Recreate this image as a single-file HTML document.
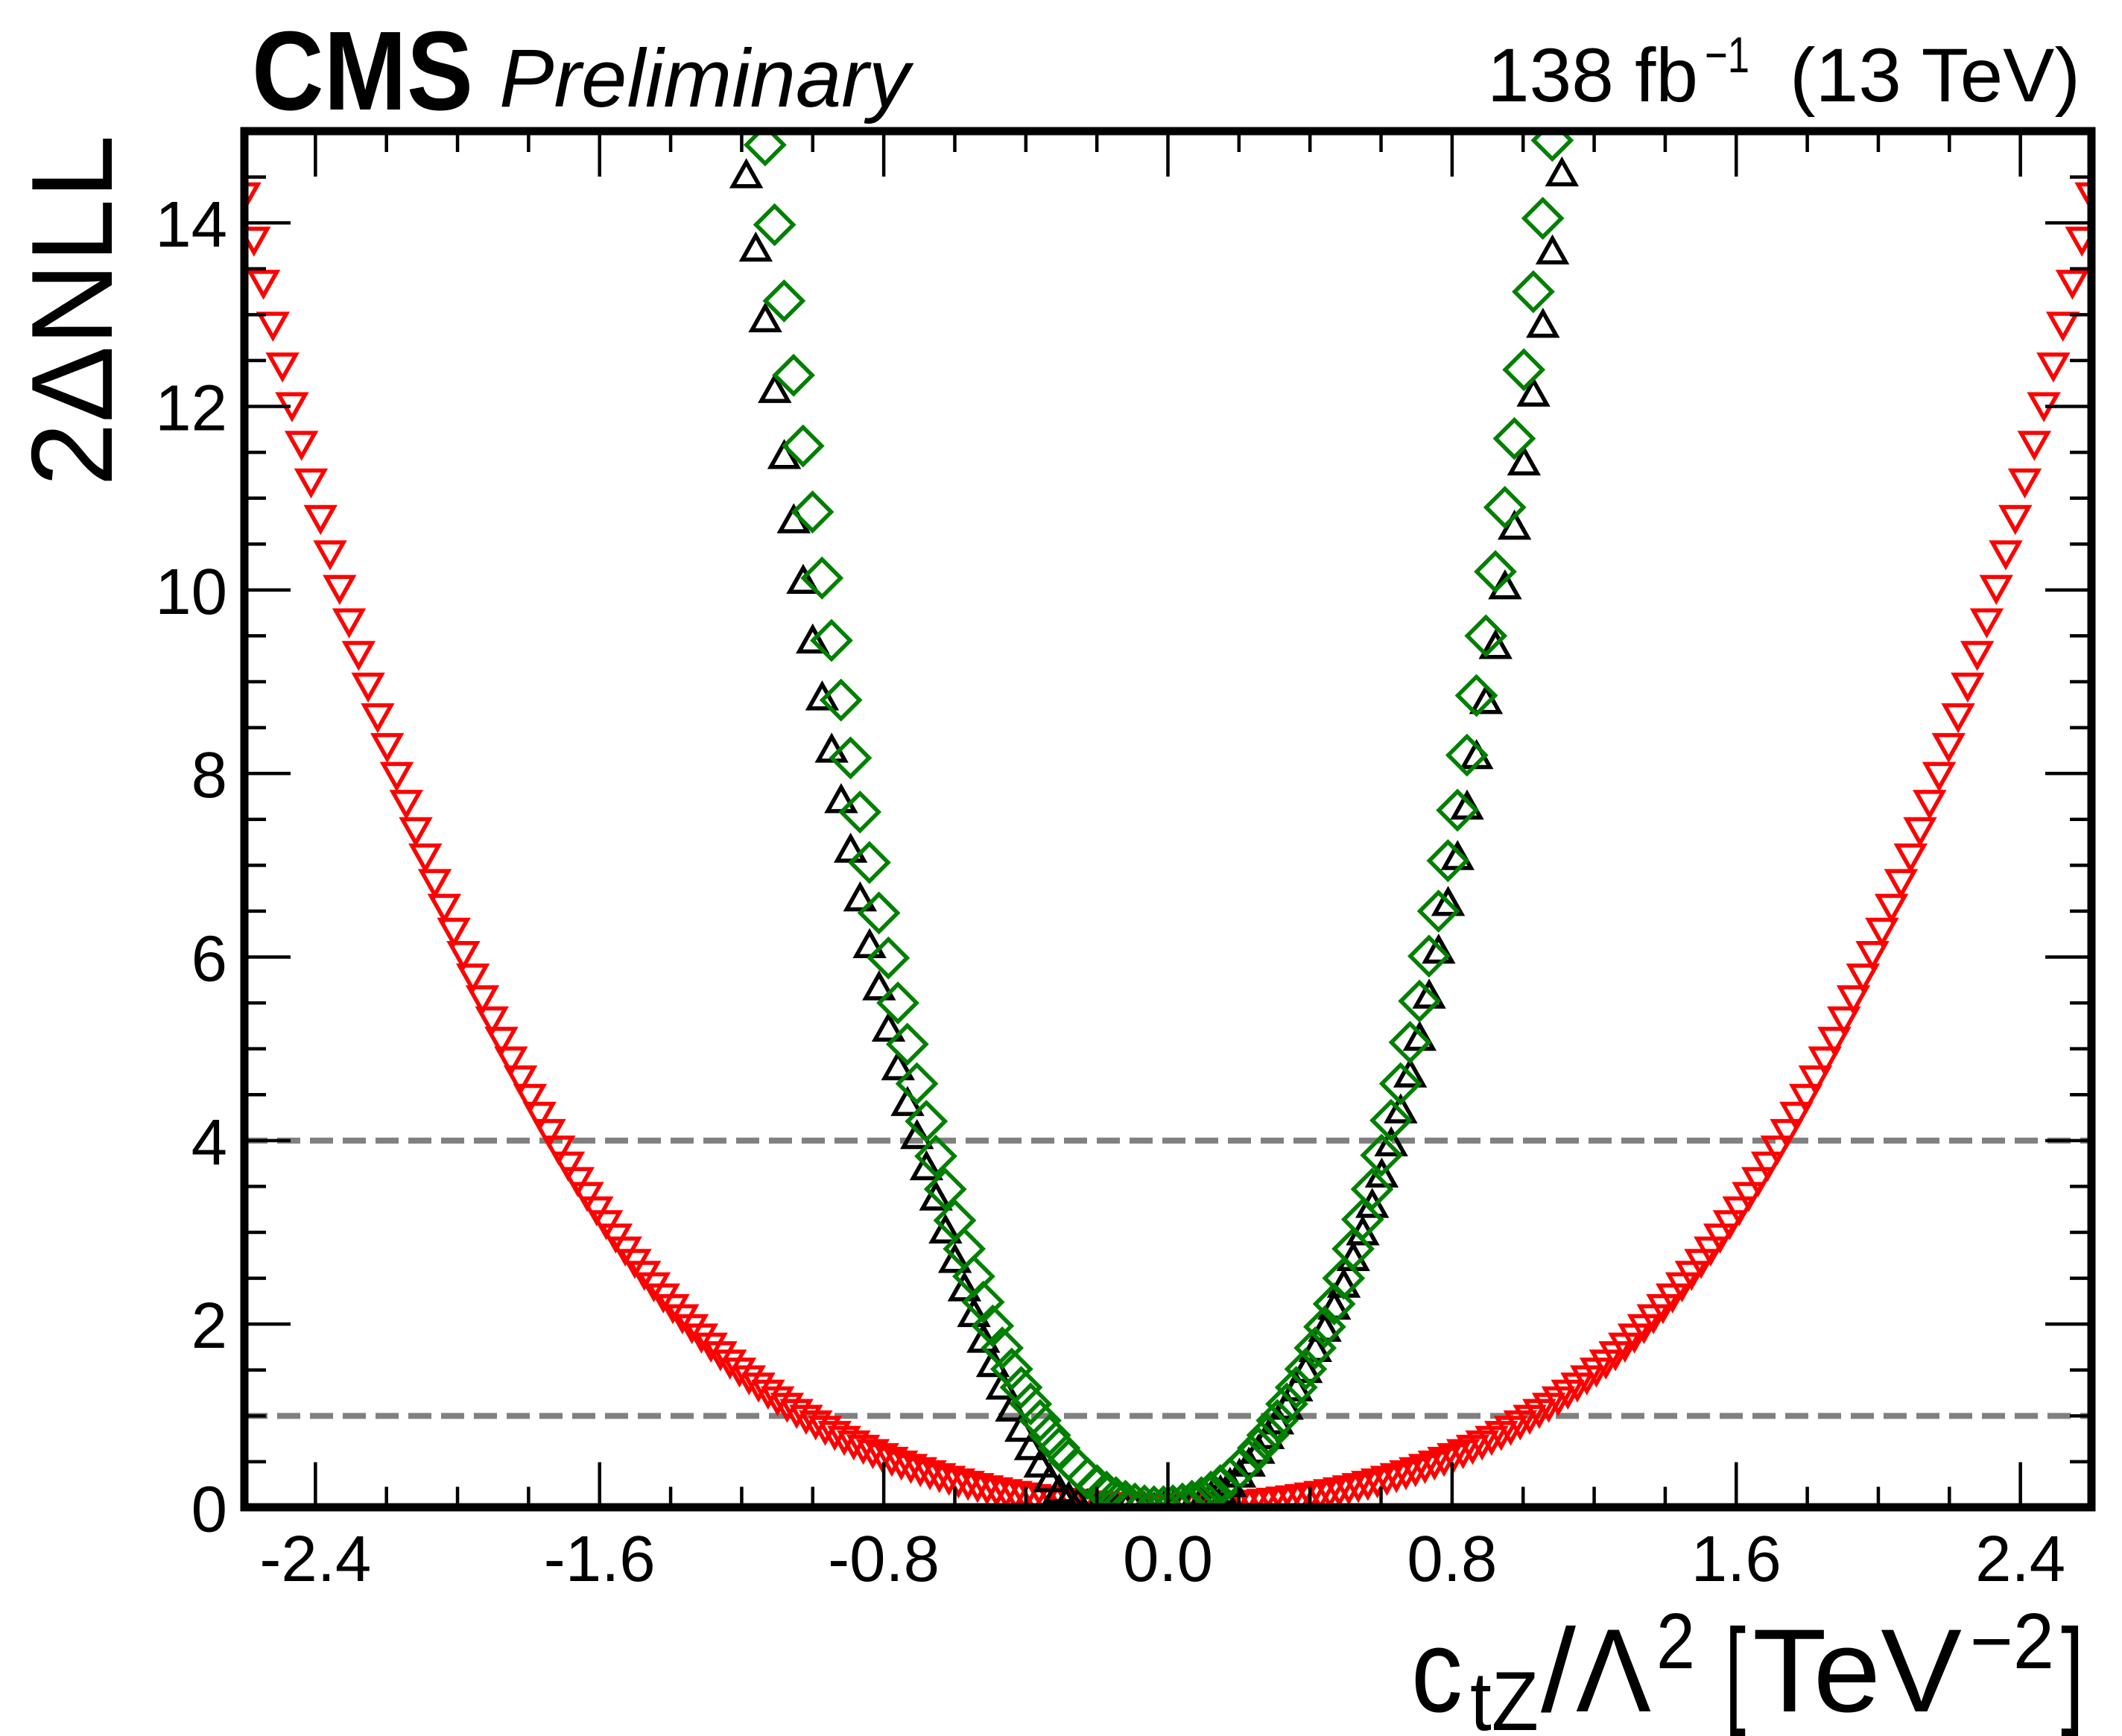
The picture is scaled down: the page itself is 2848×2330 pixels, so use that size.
<!DOCTYPE html>
<html><head><meta charset="utf-8"><style>
html,body{margin:0;padding:0;background:#fff;}
svg{display:block;font-family:"Liberation Sans",Arial,sans-serif;}
</style></head><body>
<svg id="chart" xmlns="http://www.w3.org/2000/svg" width="2848" height="2330" viewBox="0 0 2848 2330">
<rect x="0" y="0" width="2848" height="2330" fill="#fff"/>
<defs><clipPath id="plotclip"><rect x="333" y="181" width="2469" height="1837"/></clipPath></defs>
<g id="grid-lines"></g>
<g id="marks" clip-path="url(#plotclip)"></g>
<g id="ticks"></g>
<rect x="328" y="176" width="2479" height="1847" fill="none" stroke="#000" stroke-width="11"/>
<g id="labels" font-size="87"></g>
<text x="338" y="147" font-size="151" font-weight="bold" textLength="297" lengthAdjust="spacingAndGlyphs">CMS</text>
<text x="670" y="143" font-size="110" font-style="italic" textLength="551" lengthAdjust="spacingAndGlyphs">Preliminary</text>
<g>
<text x="1996" y="136" font-size="102" textLength="283" lengthAdjust="spacingAndGlyphs">138 fb</text>
<text x="2288" y="97" font-size="68" textLength="60" lengthAdjust="spacingAndGlyphs">−1</text>
<text x="2402" y="136" font-size="102" textLength="390" lengthAdjust="spacingAndGlyphs">(13 TeV)</text>
</g>
<text transform="translate(150,653) rotate(-90)" x="0" y="0" font-size="155" textLength="472" lengthAdjust="spacingAndGlyphs">2ΔNLL</text>
<g>
<text x="1894" y="2297" font-size="159" textLength="69" lengthAdjust="spacingAndGlyphs">c</text>
<text x="1973" y="2322" font-size="112" textLength="92" lengthAdjust="spacingAndGlyphs">tZ</text>
<text x="2068" y="2297" font-size="159" textLength="47" lengthAdjust="spacingAndGlyphs">/</text>
<text x="2115" y="2297" font-size="159" textLength="101" lengthAdjust="spacingAndGlyphs">Λ</text>
<text x="2223" y="2239" font-size="106" textLength="52" lengthAdjust="spacingAndGlyphs">2</text>
<text x="2315" y="2297" font-size="159" textLength="28" lengthAdjust="spacingAndGlyphs">[</text>
<text x="2352" y="2297" font-size="159" textLength="281" lengthAdjust="spacingAndGlyphs">TeV</text>
<text x="2644" y="2239" font-size="106" textLength="113" lengthAdjust="spacingAndGlyphs">−2</text>
<text x="2766" y="2297" font-size="159" textLength="31" lengthAdjust="spacingAndGlyphs">]</text>
</g>
</svg>
<script>
// ---- data ----
const xTickValues = [-2.4, -1.6, -0.8, 0.0, 0.8, 1.6, 2.4];
const xTickLabels = ["-2.4", "-1.6", "-0.8", "0.0", "0.8", "1.6", "2.4"];
const yTickValues = [0, 2, 4, 6, 8, 10, 12, 14];
const yTickLabels = ["0", "2", "4", "6", "8", "10", "12", "14"];
const refLevels = [1, 4];
const redXStart = -2.6, redXStep = 2.6 / 97;
const redHalf = [0,.001,.002,.005,.008,.013,.019,.026,.034,.043,.053,.064,.077,.090,.105,.122,.139,.158,.179,.200,.224,.249,.275,.303,.333,.364,.398,.433,.470,.510,.551,.595,.641,.689,.739,.793,.848,.907,.968,1.032,1.099,1.169,1.242,1.319,1.399,1.483,1.570,1.661,1.755,1.854,1.957,2.064,2.175,2.291,2.412,2.537,2.667,2.802,2.943,3.089,3.240,3.397,3.559,3.728,3.902,4.083,4.271,4.465,4.666,4.873,5.088,5.310,5.540,5.777,6.022,6.276,6.537,6.807,7.085,7.372,7.669,7.974,8.289,8.613,8.947,9.292,9.647,10.012,10.388,10.774,11.172,11.582,12.003,12.435,12.880,13.337,13.807,14.290];
const redValues = redHalf.slice(1).reverse().concat(redHalf);
const blackXStart = -1.187, blackXStep = 0.0267;
const blackValues = [14.53,13.73,12.96,12.19,11.47,10.77,10.11,9.46,8.84,8.27,7.72,7.18,6.65,6.14,5.68,5.23,4.81,4.42,4.06,3.72,3.39,3.03,2.71,2.40,2.12,1.84,1.575,1.33,1.09,0.87,0.67,0.48,0.32,0.20,0.12,0.07,0.04,0.02,0.01,0.01,0.01,0.01,0.01,0.00,0.01,0.02,0.04,0.06,0.09,0.13,0.19,0.27,0.37,0.49,0.63,0.79,0.95,1.11,1.31,1.51,1.74,1.96,2.20,2.44,2.73,3.01,3.31,3.64,3.98,4.34,4.73,5.13,5.59,6.08,6.6,7.1,7.65,8.2,8.8,9.4,10.05,10.7,11.4,12.15,12.9,13.7,14.55];
const greenXStart = -1.134, greenXStep = 0.0267;
const greenValues = [14.85,13.98,13.15,12.34,11.57,10.85,10.13,9.45,8.80,8.17,7.58,7.03,6.48,5.99,5.50,5.05,4.62,4.21,3.83,3.47,3.13,2.82,2.52,2.24,1.98,1.74,1.51,1.31,1.13,0.95,0.79,0.65,0.52,0.42,0.32,0.24,0.17,0.11,0.07,0.04,0.02,0.01,0.01,0.02,0.04,0.07,0.11,0.17,0.24,0.32,0.42,0.52,0.65,0.79,0.95,1.13,1.31,1.51,1.74,1.97,2.22,2.50,2.82,3.14,3.47,3.84,4.22,4.62,5.07,5.52,6.01,6.5,7.05,7.6,8.2,8.85,9.5,10.2,10.9,11.65,12.4,13.25,14.05,14.9];

// ---- axes ----
const X0 = 328, X1 = 2807, Y0 = 2023.5, Y1 = 176;
const xMin = -2.6, xMax = 2.6, yMin = 0, yMax = 15;
function sx(v){ return X0 + (v - xMin) / (xMax - xMin) * (X1 - X0); }
function sy(v){ return Y0 - (v - yMin) / (yMax - yMin) * (Y0 - Y1); }
const NS = "http://www.w3.org/2000/svg";
function mk(tag, attrs, parent){
  const e = document.createElementNS(NS, tag);
  for (const k in attrs) e.setAttribute(k, attrs[k]);
  parent.appendChild(e); return e;
}

const gl = document.getElementById('grid-lines');
refLevels.forEach(function(v){
  const l = mk('line', {x1:X0, x2:X1, y1:sy(v), y2:sy(v), stroke:'#808080', 'stroke-width':8, 'stroke-dasharray':'31 13'}, gl);
  
  
});

const tg = document.getElementById('ticks');
function tick(x1,y1,x2,y2,name){
  const l = mk('line', {x1:x1,y1:y1,x2:x2,y2:y2,stroke:'#000','stroke-width':4.5}, tg);
  
  
}
for (let i = -12; i <= 12; i++) {
  const v = i * 0.2; const x = sx(v);
  const major = (i % 4 === 0);
  const len = major ? 61 : 28;
  tick(x, Y0, x, Y0 - len, 'x-tick');
  tick(x, Y1, x, Y1 + len, 'x-tick-top');
}
for (let j = 1; j < 30; j++) {
  const v = j * 0.5; const y = sy(v);
  const major = (j % 4 === 0);
  const len = major ? 62 : 29;
  tick(X0, y, X0 + len, y, 'y-tick');
  tick(X1, y, X1 - len, y, 'y-tick-right');
}

const lg = document.getElementById('labels');
xTickValues.forEach(function(v, i){
  const t = mk('text', {x:sx(v), y:2122, 'text-anchor':'middle'}, lg);
  t.textContent = xTickLabels[i];
  
  
});
yTickValues.forEach(function(v, i){
  const t = mk('text', {x:305, y:sy(v) + 32, 'text-anchor':'end'}, lg);
  t.textContent = yTickLabels[i];
  
  
});

const mg = document.getElementById('marks');
const redG = mk('g', {}, mg);


redValues.forEach(function(v, i){
  const cx = sx(redXStart + i * redXStep), cy = sy(v);
  const p = mk('polygon', {points:(cx-18)+','+(cy-16)+' '+(cx+18)+','+(cy-16)+' '+cx+','+(cy+16), fill:'none', stroke:'#ff0000', 'stroke-width':5.5}, redG);
  
  
});
const blackG = mk('g', {}, mg);


blackValues.forEach(function(v, i){
  const cx = sx(blackXStart + i * blackXStep), cy = sy(v);
  const p = mk('polygon', {points:(cx-18)+','+(cy+16)+' '+(cx+18)+','+(cy+16)+' '+cx+','+(cy-16), fill:'none', stroke:'#000', 'stroke-width':5.5}, blackG);
  
  
});
const greenG = mk('g', {}, mg);


greenValues.forEach(function(v, i){
  const cx = sx(greenXStart + i * greenXStep), cy = sy(v);
  const p = mk('polygon', {points:(cx-25)+','+cy+' '+cx+','+(cy-25)+' '+(cx+25)+','+cy+' '+cx+','+(cy+25), fill:'none', stroke:'#008000', 'stroke-width':5.5}, greenG);
  
  
});
</script>
</body></html>
